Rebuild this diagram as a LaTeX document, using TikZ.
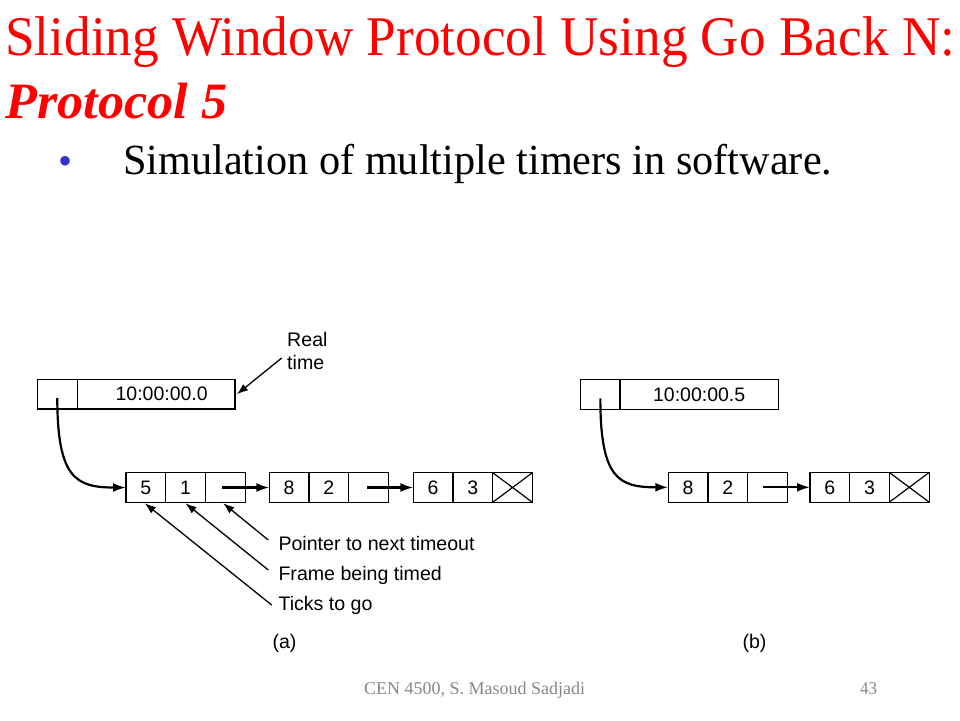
\documentclass[tikz,border=0pt]{standalone}
\usepackage{graphicx}
\usepackage{fontspec}
\setmainfont{Liberation Serif}
\setsansfont{Liberation Sans}
\usetikzlibrary{arrows.meta}
\definecolor{bulletblue}{HTML}{3333CC}
\definecolor{footgray}{HTML}{888888}
\begin{document}
\begin{tikzpicture}[x=1pt,y=-1pt,
  cell/.style={draw, line width=1.2pt, minimum width=39.7pt, minimum height=29.6pt,
    inner sep=0pt, outer sep=0pt, font=\sffamily\fontsize{19.5}{21}\selectfont},
  wide/.style={cell, minimum width=157.7pt},
  ptr/.style={line width=2.2pt, -{Latex[length=13pt,width=9pt]}},
  lead/.style={line width=1.3pt, -{Latex[length=11pt,width=8pt]}},
  lab/.style={font=\sffamily\fontsize{19.6}{22.7}\selectfont, inner sep=0pt},
  titletext/.style={inner sep=0pt, anchor=base west, text=red}]
\path[use as bounding box, fill=white] (0,0) rectangle (960,720);

% title and bullet
\node[titletext] (t1) at (5,55) {\resizebox{950pt}{\height}{\fontsize{56}{60}\selectfont Sliding Window Protocol Using Go Back N:}};
\node[titletext] (t2) at (5,118) {\resizebox{222pt}{\height}{\fontsize{51}{56}\selectfont\bfseries\itshape Protocol 5}};
\node[inner sep=0pt, anchor=base, text=bulletblue, font=\fontsize{40}{44}\selectfont] (bul) at (65.5,174) {•};
\node[inner sep=0pt, anchor=base west] (btext) at (123,174) {\resizebox{709pt}{\height}{\fontsize{43}{48}\selectfont Simulation of multiple timers in software.}};

% (a) top box
\node[cell] (ra) at (57.3,394.2) {};
\node[wide] (ta) at (156.15,394.2) {\hspace*{11pt}10:00:00.0};
% (a) list
\node[cell] (a1a) at (145.85,487.5) {5};
\node[cell] (a1b) at (185.55,487.5) {1};
\node[cell] (a1c) at (225.25,487.5) {};
\node[cell] (a2a) at (289.15,487.5) {8};
\node[cell] (a2b) at (328.85,487.5) {2};
\node[cell] (a2c) at (368.55,487.5) {};
\node[cell] (a3a) at (433.15,487.5) {6};
\node[cell] (a3b) at (472.85,487.5) {3};
\node[cell] (a3c) at (512.55,487.5) {};
\draw[line width=1.2pt] (a3c.north west) -- (a3c.south east) (a3c.south west) -- (a3c.north east);

\draw[ptr] ([yshift=-4pt]ra.center) .. controls +(0,80) and +(-50,0) .. (a1a.west);
\draw[ptr] ([xshift=-3.5pt]a1c.center) -- (a2a.west);
\draw[ptr] ([xshift=-2pt]a2c.center) -- (a3a.west);

% labels (a)
\node[lab, align=left, anchor=base west] (rtl) at (287,369.3) {Real\\time};
\draw[lead] ([xshift=-5.3pt,yshift=11.3pt]rtl.base west) -- ([xshift=2pt]ta.east);
\node[lab, anchor=base west] (lp) at (278.3,550.5) {Pointer to next timeout};
\node[lab, anchor=base west] (lf) at (278.3,580.5) {Frame being timed};
\node[lab, anchor=base west] (lt) at (278.3,610) {Ticks to go};
\draw[lead] ([xshift=-10pt,yshift=10.5pt]lp.base west) -- ([xshift=-2pt,yshift=-1pt]a1c.south);
\draw[lead] ([xshift=-10pt,yshift=10.5pt]lf.base west) -- ([yshift=-1pt]a1b.south);
\draw[lead] ([xshift=-6.6pt,yshift=5pt]lt.base west) -- ([xshift=-1pt,yshift=-1pt]a1a.south);
\node[lab] (capa) at (284.5,643) {(a)};

% (b) top box
\node[cell, minimum width=39.3pt] (rb) at (600.35,394.3) {};
\node[wide, minimum width=158.3pt] (tb) at (699.15,394.3) {10:00:00.5};
% (b) list
\node[cell] (b1a) at (688.15,487.3) {8};
\node[cell] (b1b) at (727.85,487.3) {2};
\node[cell] (b1c) at (767.55,487.3) {};
\node[cell] (b2a) at (829.85,487.3) {6};
\node[cell] (b2b) at (869.55,487.3) {3};
\node[cell] (b2c) at (909.25,487.3) {};
\draw[line width=1.2pt] (b2c.north west) -- (b2c.south east) (b2c.south west) -- (b2c.north east);

\draw[ptr] ([yshift=-4pt]rb.center) .. controls +(0,80) and +(-50,0) .. (b1a.west);
\draw[ptr] ([xshift=-4.3pt]b1c.center) -- (b2a.west);
\node[lab] (capb) at (754.5,643) {(b)};

% footer
\node[inner sep=0pt, anchor=base west, text=footgray] (foot) at (364,694) {\resizebox{221pt}{\height}{\fontsize{18}{20}\selectfont CEN 4500, S. Masoud Sadjadi}};
\node[inner sep=0pt, anchor=base west, text=footgray] (pg) at (860,694) {\resizebox{17pt}{\height}{\fontsize{18}{20}\selectfont 43}};
\end{tikzpicture}
\end{document}
